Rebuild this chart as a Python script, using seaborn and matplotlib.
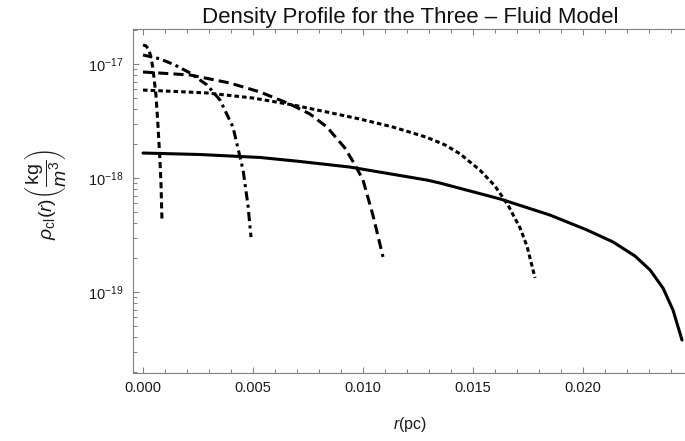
import numpy as np
import pandas as pd
import matplotlib
matplotlib.use("Agg")
import matplotlib.pyplot as plt
import matplotlib.ticker as mticker
import seaborn as sns

# ---- data (r in pc, rho in kg/m^3) ----
r_steep = [0.0, 0.00014, 0.00027, 0.00036, 0.00045, 0.00059, 0.00068, 0.00077, 0.00082, 0.00086]
rho_steep = [1.47e-17, 1.44e-17, 1.33e-17, 1.15e-17, 9.2e-18, 5.3e-18, 2.9e-18, 1.44e-18, 8.7e-19, 4.4e-19]

r_dashdot = [0.0, 0.00077, 0.00145, 0.00214, 0.00291, 0.0035, 0.00409, 0.00455, 0.00477, 0.00491]
rho_dashdot = [1.20e-17, 1.11e-17, 9.8e-18, 8.34e-18, 6.55e-18, 4.83e-18, 2.80e-18, 1.17e-18, 5.79e-19, 3.03e-19]

r_dashed = [0.0, 0.00214, 0.00395, 0.00532, 0.00668, 0.00759, 0.00836, 0.00918, 0.00964, 0.0100, 0.01045, 0.01091]
rho_dashed = [8.51e-18, 8.01e-18, 6.81e-18, 5.68e-18, 4.45e-18, 3.64e-18, 2.80e-18, 1.83e-18, 1.30e-18, 9.6e-19, 4.73e-19, 2.03e-19]

r_dotted = [0.0, 0.0020, 0.00291, 0.0050, 0.00682, 0.00836, 0.00986, 0.01136, 0.01291, 0.01373,
            0.01441, 0.01532, 0.0160, 0.01659, 0.01714, 0.01745, 0.01782]
rho_dotted = [5.91e-18, 5.68e-18, 5.57e-18, 5.03e-18, 4.37e-18, 3.79e-18, 3.29e-18, 2.80e-18, 2.27e-18, 1.95e-18,
              1.63e-18, 1.17e-18, 8.51e-19, 5.79e-19, 3.64e-19, 2.54e-19, 1.33e-19]

r_solid = [0.0, 0.00259, 0.00532, 0.00714, 0.00941, 0.01291, 0.0135, 0.01623, 0.0185, 0.02018,
           0.02136, 0.02236, 0.02305, 0.02364, 0.02409, 0.0245]
rho_solid = [1.656e-18, 1.607e-18, 1.514e-18, 1.396e-18, 1.247e-18, 9.59e-19, 9.03e-19, 6.55e-19, 4.73e-19, 3.50e-19,
             2.75e-19, 2.07e-19, 1.56e-19, 1.08e-19, 6.95e-20, 3.79e-20]

model_names = ["steep", "dashdot", "dashed", "dotted", "solid"]

x_ticks = [0.0, 0.005, 0.010, 0.015, 0.020]
x_ticklabels = ["0.000", "0.005", "0.010", "0.015", "0.020"]
y_ticks = [1e-19, 1e-18, 1e-17]
y_ticklabels = [r"$10^{-19}$", r"$10^{-18}$", r"$10^{-17}$"]

title = "Density Profile for the Three \u2013 Fluid Model"

# ---- style ----
sns.set_style("ticks")
plt.rcParams["font.family"] = ["Liberation Sans", "DejaVu Sans"]
plt.rcParams["mathtext.fontset"] = "custom"
plt.rcParams["mathtext.rm"] = "Liberation Sans"
plt.rcParams["mathtext.it"] = "Liberation Sans:italic"
plt.rcParams["mathtext.bf"] = "Liberation Sans:bold"
plt.rcParams["axes.axisbelow"] = False

frames = []
for name, r, rho in zip(model_names,
                        [r_steep, r_dashdot, r_dashed, r_dotted, r_solid],
                        [rho_steep, rho_dashdot, rho_dashed, rho_dotted, rho_solid]):
    frames.append(pd.DataFrame({"r": r, "rho": rho, "model": name}))
df = pd.concat(frames, ignore_index=True)

dashes = {
    "steep": (2.0, 1.3),
    "dashdot": (3.0, 1.4, 1.0, 1.4),
    "dashed": (3.3, 1.7),
    "dotted": (1.5, 1.0),
    "solid": "",
}

fig = plt.figure(figsize=(6.85, 4.41), dpi=100)
ax = fig.add_axes([133 / 685, 1 - 373 / 441, (687 - 133) / 685, (373 - 29) / 441])

sns.lineplot(data=df, x="r", y="rho", style="model", style_order=model_names,
             dashes=dashes, color="black", linewidth=2.2, sort=False,
             estimator=None, legend=False, ax=ax)

ax.set_yscale("log")
ax.set_xlim((133 - 143) / 22000, (687 - 143) / 22000)
ax.set_ylim(10 ** (-17 - (373 - 64) / 114), 10 ** (-17 + (64 - 29) / 114))

ax.set_xticks(x_ticks)
ax.set_xticklabels(x_ticklabels)
ax.xaxis.set_minor_locator(mticker.MultipleLocator(0.001))
ax.set_yticks(y_ticks)
ax.set_yticklabels(y_ticklabels)
ax.yaxis.set_minor_locator(mticker.LogLocator(base=10, subs=np.arange(2, 10), numticks=20))
ax.yaxis.set_minor_formatter(mticker.NullFormatter())

frame_col = "#808080"
for s in ["left", "bottom", "top"]:
    ax.spines[s].set_color(frame_col)
    ax.spines[s].set_linewidth(0.8)
ax.spines["right"].set_visible(False)

ax.tick_params(which="both", direction="in", color=frame_col, top=True, right=False,
               bottom=True, left=True)
ax.tick_params(which="major", length=4.5, width=0.8, labelcolor="#1a1a1a", labelsize=10.5)
ax.tick_params(which="minor", length=2.6, width=0.7)
ax.tick_params(axis="x", which="major", pad=6)
ax.tick_params(axis="y", which="major", pad=7)

ax.set_xlabel(r"$r$(pc)", fontsize=11.5, color="#1a1a1a")
ax.xaxis.set_label_coords(0.5, (373 - 415) / 344)
ax.set_ylabel(r"$\rho_{\mathrm{cl}}(r)\left(\dfrac{\mathrm{kg}}{m^3}\right)$", fontsize=14, color="#1a1a1a")
ax.yaxis.set_label_coords((68 - 133) / 554, 0.52)

ax.set_title(title, fontsize=16, pad=4, color="#111111")

fig.savefig("out.png", dpi=100)
